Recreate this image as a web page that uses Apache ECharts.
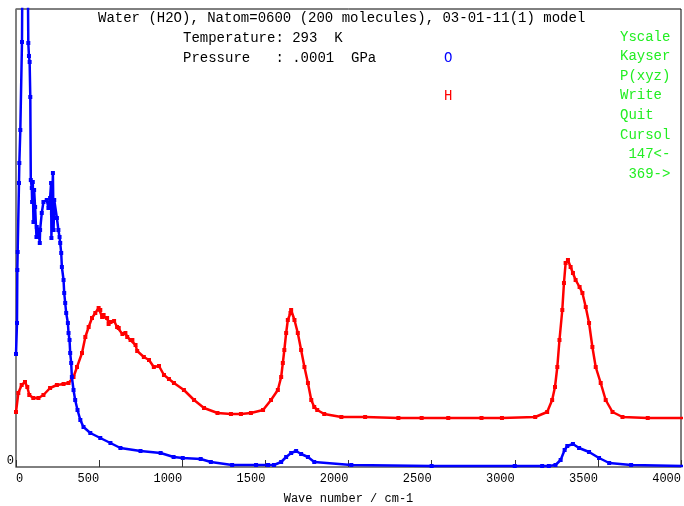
<!DOCTYPE html>
<html>
<head>
<meta charset="utf-8">
<script src="https://cdn.jsdelivr.net/npm/echarts@6/dist/echarts.min.js"></script>
<style>html,body{margin:0;padding:0;background:#fff}#c{width:684px;height:506px}</style>
</head>
<body>
<div id="c"></div>
<script>
// Wave number (cm-1) vs spectral intensity (arbitrary units, axis top = 458)
var xTicks = [0, 500, 1000, 1500, 2000, 2500, 3000, 3500, 4000];
var oxygenWn = [0,6,8,10,18,20,26,36,42,50,60,68,74,78,82,86,89,95,97,101,105,109,115,123,125,135,143,145,155,165,185,195,205,211,213,216,222,226,230,246,255,262,266,272,276,286,290,296,302,312,316,322,326,332,336,346,356,370,387,406,447,507,568,628,749,870,948,1003,1111,1172,1300,1444,1516,1552,1595,1625,1655,1685,1715,1756,1794,2017,2500,3000,3165,3205,3245,3276,3300,3316,3350,3387,3447,3507,3568,3700,4017];
var oxygenVal = [113,144,197,215,284,304,337,425,600,700,650,560,424,411,405,370,287,279,265,285,245,277,260,230,240,237,224,237,254,265,267,259,269,284,229,254,294,237,267,249,237,230,224,214,200,187,174,164,154,144,134,127,114,104,90,77,67,57,47,40,34,29,24,19,16,14,10,9,8,5,2,2,2,2,5,10,14,16,13,10,5,2,1,1,1,1,2,7,17,21,23,19,15,9,4,2,1,1];
var hydrogenWn = [0,14,34,54,68,80,104,135,165,205,246,286,316,346,367,397,417,437,457,477,497,507,518,527,548,557,568,590,608,618,640,658,669,689,700,719,729,769,800,829,860,890,920,950,1010,1071,1131,1212,1293,1353,1413,1486,1534,1575,1595,1605,1614,1625,1635,1651,1655,1675,1695,1715,1735,1756,1776,1794,1812,1854,1957,2100,2300,2440,2600,2800,2923,3123,3195,3225,3242,3256,3269,3286,3296,3306,3320,3336,3350,3366,3390,3407,3427,3447,3467,3487,3517,3547,3588,3648,3800,4017];
var hydrogenVal = [55,74,82,85,80,72,69,69,72,79,82,83,84,90,100,114,130,140,149,154,159,157,150,152,149,143,145,146,140,139,133,134,130,127,127,122,116,110,107,100,101,92,88,84,77,67,59,54,53,53,54,57,67,77,90,104,117,134,147,154,157,147,134,117,100,84,67,60,57,53,50,50,49,49,49,49,49,50,55,67,80,100,127,157,184,204,207,200,194,187,180,174,160,144,120,100,84,67,55,50,49,49];
var titleLines = ['Water (H2O), Natom=0600 (200 molecules), 03-01-11(1) model', 'Temperature: 293  K', 'Pressure   : .0001  GPa'];
var menuItems = ['Yscale', 'Kayser', 'P(xyz)', 'Write', 'Quit', 'Cursol', ' 147<-', ' 369->'];
var legendNames = ['O', 'H'];

function pairs(xs, ys) { return xs.map(function (x, i) { return [x, ys[i]]; }); }

var FONT = '"Liberation Mono","DejaVu Sans Mono",monospace';
var chart = echarts.init(document.getElementById('c'), null, {renderer: 'canvas'});
var graphics = [
  {type: 'text', left: 98, top: 11, style: {text: titleLines[0], font: '14px ' + FONT, fill: '#000'}},
  {type: 'text', left: 183, top: 31, style: {text: titleLines[1], font: '14px ' + FONT, fill: '#000'}},
  {type: 'text', left: 183, top: 51, style: {text: titleLines[2], font: '14px ' + FONT, fill: '#000'}},
  {type: 'text', left: 444, top: 51, style: {text: legendNames[0], font: '14px ' + FONT, fill: '#0000ff'}},
  {type: 'text', left: 444, top: 89, style: {text: legendNames[1], font: '14px ' + FONT, fill: '#ff0000'}}
];
menuItems.forEach(function (m, i) {
  graphics.push({type: 'text', left: 620, top: 30 + i * 19.57, style: {text: m, font: '14px ' + FONT, fill: '#22ee22', whiteSpace: 'pre'}});
});

chart.setOption({
  animation: false,
  backgroundColor: '#fff',
  grid: {left: 16, right: 3, top: 9, bottom: 39, containLabel: false, outerBoundsMode: 'none', show: true, borderColor: '#000', borderWidth: 1, backgroundColor: 'transparent'},
  xAxis: {
    type: 'value', min: xTicks[0], max: xTicks[xTicks.length - 1], interval: 500,
    name: 'Wave number / cm-1', nameLocation: 'middle', nameGap: 26,
    nameTextStyle: {fontFamily: FONT, fontSize: 12, color: '#000'},
    axisLine: {show: true, onZero: false, lineStyle: {color: '#808080', width: 1.5}},
    axisTick: {show: true, inside: true, length: 7, lineStyle: {color: '#333'}},
    axisLabel: {fontFamily: FONT, fontSize: 12, color: '#000', margin: 6, align: 'right', alignMinLabel: 'left', alignMaxLabel: 'right',
      formatter: function (v) { return xTicks.indexOf(v) >= 0 ? String(v) : ''; }},
    splitLine: {show: false}
  },
  yAxis: {
    type: 'value', min: 0, max: 458, interval: 458,
    axisLine: {show: true, onZero: false, lineStyle: {color: '#808080', width: 1.5}},
    axisTick: {show: false},
    axisLabel: {fontFamily: FONT, fontSize: 12, color: '#000', margin: 2, verticalAlign: 'bottom',
      formatter: function (v) { return v === 0 ? '0' : ''; }},
    splitLine: {show: false}
  },
  series: [
    {name: 'O', type: 'line', data: pairs(oxygenWn, oxygenVal), clip: true, symbol: 'rect', symbolSize: 4, showAllSymbol: true,
      itemStyle: {color: '#0000ff'}, lineStyle: {color: '#0000ff', width: 2.5}, z: 3},
    {name: 'H', type: 'line', data: pairs(hydrogenWn, hydrogenVal), clip: true, symbol: 'rect', symbolSize: 4, showAllSymbol: true,
      itemStyle: {color: '#ff0000'}, lineStyle: {color: '#ff0000', width: 2.5}, z: 2}
  ],
  graphic: graphics
});
</script>
</body>
</html>
